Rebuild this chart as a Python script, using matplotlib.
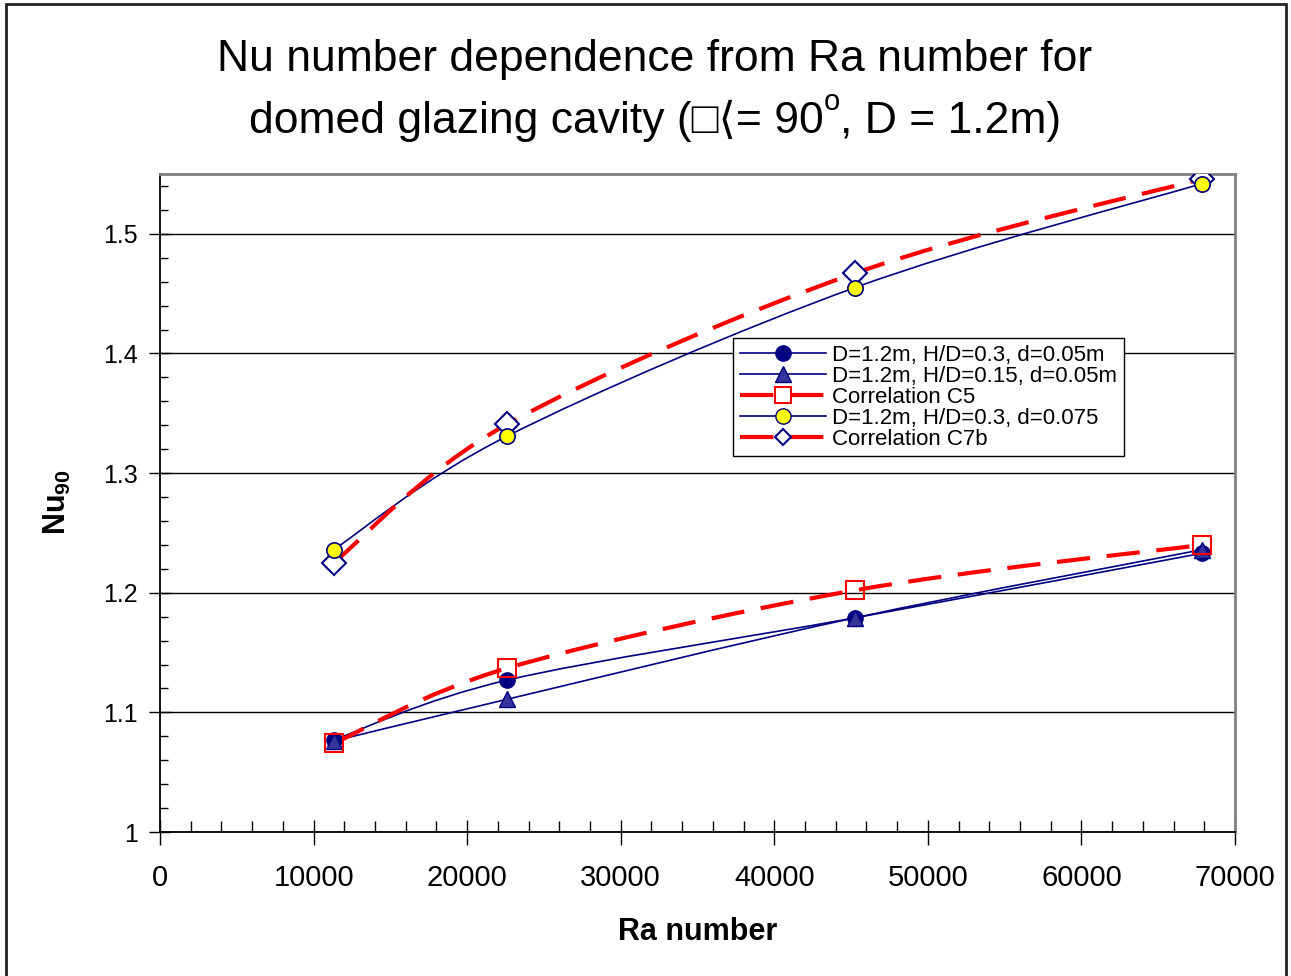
import numpy as np
import matplotlib
matplotlib.use('Agg')
import matplotlib.pyplot as plt
from matplotlib.path import Path
from matplotlib.patches import PathPatch, Rectangle
from matplotlib.lines import Line2D
from matplotlib.ticker import MultipleLocator

plt.rcParams['font.family'] = ['Liberation Sans', 'DejaVu Sans']
plt.rcParams['mathtext.fontset'] = 'custom'
plt.rcParams['mathtext.rm'] = 'Liberation Sans'
plt.rcParams['mathtext.bf'] = 'Liberation Sans:bold'

# ---------------- data ----------------
ra = [11310, 22620, 45240, 67860]
nu_h03_d005 = [1.077, 1.127, 1.179, 1.233]
nu_h015_d005 = [1.076, 1.111, 1.179, 1.236]
nu_c5 = [1.074, 1.137, 1.202, 1.240]
nu_h03_d0075 = [1.236, 1.331, 1.455, 1.542]
nu_c7b = [1.225, 1.341, 1.467, 1.546]
series_labels = ["D=1.2m, H/D=0.3, d=0.05m",
                 "D=1.2m, H/D=0.15, d=0.05m",
                 "Correlation C5",
                 "D=1.2m, H/D=0.3, d=0.075",
                 "Correlation C7b"]
x_ticks = [0, 10000, 20000, 30000, 40000, 50000, 60000, 70000]
y_ticks = [1, 1.1, 1.2, 1.3, 1.4, 1.5]
y_tick_labels = ['1', '1.1', '1.2', '1.3', '1.4', '1.5']
title_line1 = "Nu number dependence from Ra number for"
title_line2a = "domed glazing cavity (\u25a1\u27e8= 90"
title_line2b = "o"
title_line2c = ", D = 1.2m)"

W, H = 1291, 976
fig = plt.figure(figsize=(W / 100, H / 100), dpi=100)
ax = fig.add_axes([160 / W, 1 - 832 / H, (1235 - 160) / W, (832 - 174) / H])
ax.set_xlim(0, 70000)
ax.set_ylim(1, 1.55)

NAVY = '#000080'
RED = '#ff0000'


def smooth_path(x, y):
    P = np.column_stack([x, y]).astype(float)
    n = len(P)
    verts = [P[0]]
    codes = [Path.MOVETO]
    for i in range(n - 1):
        p0 = P[i - 1] if i > 0 else P[i]
        p3 = P[i + 2] if i + 2 < n else P[i + 1]
        c1 = P[i] + (P[i + 1] - p0) / 6.0
        c2 = P[i + 1] - (p3 - P[i]) / 6.0
        verts += [c1, c2, P[i + 1]]
        codes += [Path.CURVE4] * 3
    return Path(verts, codes)


def add_curve(y, color, lw, ls, z):
    patch = PathPatch(smooth_path(ra, y), fill=False, edgecolor=color, lw=lw,
                      linestyle=ls, transform=ax.transData, zorder=z,
                      capstyle='butt', joinstyle='round')
    ax.add_patch(patch)


dash = (0, (8, 4))
add_curve(nu_h03_d005, NAVY, 1.2, '-', 3)
add_curve(nu_h015_d005, NAVY, 1.2, '-', 3)
add_curve(nu_h03_d0075, NAVY, 1.2, '-', 3)
add_curve(nu_c5, RED, 3, dash, 4)
add_curve(nu_c7b, RED, 3, dash, 4)

ax.plot(ra, nu_h03_d005, ls='none', marker='o', ms=11, mfc=NAVY, mec=NAVY, zorder=5)
ax.plot(ra, nu_h015_d005, ls='none', marker='^', ms=11, mfc='#333399', mec=NAVY, zorder=6)
ax.plot(ra, nu_c5, ls='none', marker='s', ms=12.5, mfc='none', mec=RED, mew=1.5, zorder=7)
ax.plot(ra, nu_c7b, ls='none', marker='D', ms=12, mfc='white', mec=NAVY, mew=1.5, zorder=6)
ax.plot(ra, nu_h03_d0075, ls='none', marker='o', ms=11, mfc='#ffff00', mec=NAVY, mew=1.2, zorder=7)

# ticks
ax.set_xticks(x_ticks)
ax.set_xticklabels([str(v) for v in x_ticks])
ax.xaxis.set_minor_locator(MultipleLocator(2000))
ax.set_yticks(y_ticks)
ax.set_yticklabels(y_tick_labels)
ax.yaxis.set_minor_locator(MultipleLocator(0.02))
ax.tick_params(axis='x', which='major', direction='inout', length=18, width=1,
               labelsize=21, pad=14, color='black')
ax.tick_params(axis='x', which='minor', direction='in', length=8, width=1, color='black')
ax.tick_params(axis='y', which='major', direction='inout', length=16, width=1,
               labelsize=18, pad=8, color='black')
ax.tick_params(axis='y', which='minor', direction='in', length=6, width=1, color='black')

ax.yaxis.grid(True, which='major', color='black', lw=1)
ax.set_axisbelow(True)
for s in ['left', 'bottom']:
    ax.spines[s].set_color('black')
    ax.spines[s].set_linewidth(1.3)
for s in ['top', 'right']:
    ax.spines[s].set_color('#808080')
    ax.spines[s].set_linewidth(2)

# legend
handles = [
    Line2D([], [], color=NAVY, lw=1.2, marker='o', ms=11, mfc=NAVY, mec=NAVY),
    Line2D([], [], color=NAVY, lw=1.2, marker='^', ms=11, mfc='#333399', mec=NAVY),
    Line2D([], [], color=RED, lw=3, ls=(0, (8, 4)), marker='s', ms=12, mfc='white', mec=RED, mew=1.5),
    Line2D([], [], color=NAVY, lw=1.2, marker='o', ms=11, mfc='#ffff00', mec=NAVY),
    Line2D([], [], color=RED, lw=3, ls=(0, (8, 4)), marker='D', ms=8, mfc='white', mec=NAVY, mew=1.5),
]
leg = ax.legend(handles, series_labels, loc='upper left',
                bbox_to_anchor=(733 / W, 1 - 338 / H), bbox_transform=fig.transFigure,
                fontsize=16, frameon=True, fancybox=False, framealpha=1,
                edgecolor='black', borderpad=0.3, labelspacing=0.0,
                handlelength=3.9, handletextpad=0.25, borderaxespad=0)
leg.get_frame().set_linewidth(1)
leg.set_zorder(10)

# axis labels
fig.text(698 / W, 1 - 932 / H, 'Ra number', ha='center', va='center',
         fontsize=22, fontweight='bold')
fig.text(57 / W, 1 - 502 / H, r'$\mathbf{Nu_{90}}$', rotation=90,
         ha='center', va='center', fontsize=22)

# title
fig.text(655 / W, 1 - 71 / H, title_line1, ha='center', va='baseline', fontsize=32)
renderer = fig.canvas.get_renderer()
t1 = fig.text(0, 1 - 133 / H, title_line2a, ha='left', va='baseline', fontsize=32)
t2 = fig.text(0, 1 - 110 / H, title_line2b, ha='left', va='baseline', fontsize=21)
t3 = fig.text(0, 1 - 133 / H, title_line2c, ha='left', va='baseline', fontsize=32)
w1 = t1.get_window_extent(renderer).width
w2 = t2.get_window_extent(renderer).width
w3 = t3.get_window_extent(renderer).width
x0 = 655 - (w1 + w2 + w3) / 2
t1.set_x(x0 / W)
t2.set_x((x0 + w1) / W)
t3.set_x((x0 + w1 + w2) / W)

# figure border
fig.patches.append(Rectangle((6 / W, -0.05), (1286 - 6) / W, 1.05 - 4 / H,
                             transform=fig.transFigure, fill=False,
                             edgecolor='#222222', lw=2, zorder=0))

fig.savefig('out.png', dpi=100)
